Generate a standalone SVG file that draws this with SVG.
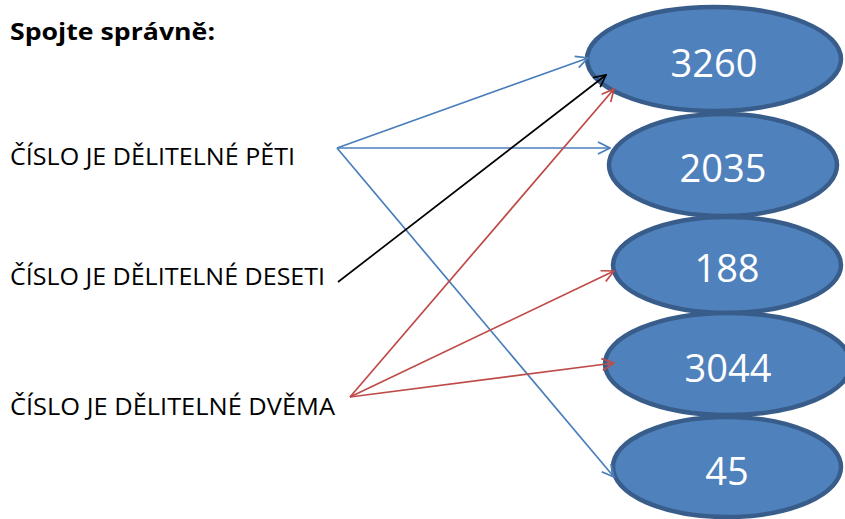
<svg xmlns="http://www.w3.org/2000/svg" width="845" height="519" viewBox="0 0 845 519">
<style>
.node ellipse{fill:#4f81bd;stroke:#385d8a;stroke-width:4.5}
.node text{fill:#fff;font-family:"Open Sans","Liberation Sans",sans-serif;font-size:38px;text-anchor:middle}
.lbl{fill:#000;font-family:"Open Sans","Liberation Sans",sans-serif;font-size:23px}
.title{fill:#000;font-family:"Open Sans","Liberation Sans",sans-serif;font-size:24px;font-weight:bold}
.b{stroke:#4a7ebb;stroke-width:1.7;fill:none;marker-end:url(#ab)}
.r{stroke:#be4b48;stroke-width:1.7;fill:none;marker-end:url(#ar)}
.k{stroke:#000;stroke-width:1.7;fill:none;marker-end:url(#ak)}
</style>
<defs>
<marker id="ab" viewBox="0 0 14 14" refX="13" refY="7" markerWidth="14" markerHeight="14" markerUnits="userSpaceOnUse" orient="auto"><path d="M1,1 L13,7 L1,13" fill="none" stroke="#4a7ebb" stroke-width="1.7"/></marker>
<marker id="ar" viewBox="0 0 14 14" refX="13" refY="7" markerWidth="14" markerHeight="14" markerUnits="userSpaceOnUse" orient="auto"><path d="M1,1 L13,7 L1,13" fill="none" stroke="#be4b48" stroke-width="1.7"/></marker>
<marker id="ak" viewBox="0 0 14 14" refX="13" refY="7" markerWidth="14" markerHeight="14" markerUnits="userSpaceOnUse" orient="auto"><path d="M1,1 L13,7 L1,13" fill="none" stroke="#000" stroke-width="1.7"/></marker>
</defs>
<rect width="845" height="519" fill="#fff"/>
<text class="title" x="10" y="40" textLength="205" lengthAdjust="spacingAndGlyphs">Spojte správně:</text>
<text class="lbl" x="10" y="165" textLength="285" lengthAdjust="spacingAndGlyphs">ČÍSLO JE DĚLITELNÉ PĚTI</text>
<text class="lbl" x="10" y="285" textLength="315" lengthAdjust="spacingAndGlyphs">ČÍSLO JE DĚLITELNÉ DESETI</text>
<text class="lbl" x="10" y="415" textLength="325" lengthAdjust="spacingAndGlyphs">ČÍSLO JE DĚLITELNÉ DVĚMA</text>
<g id="n3260" class="node"><ellipse cx="714" cy="59" rx="127" ry="52"/><text x="714" y="77">3260</text></g>
<g id="n2035" class="node"><ellipse cx="723" cy="165" rx="114" ry="51"/><text x="723" y="182">2035</text></g>
<g id="n188" class="node"><ellipse cx="727" cy="265" rx="114" ry="48"/><text x="727" y="282">188</text></g>
<g id="n3044" class="node"><ellipse cx="728" cy="364" rx="123" ry="51"/><text x="728" y="382">3044</text></g>
<g id="n45" class="node"><ellipse cx="727" cy="467" rx="114" ry="50"/><text x="727" y="485">45</text></g>
<g id="connectors">
<line class="b" x1="337" y1="148" x2="588" y2="58"/>
<line class="b" x1="337" y1="148" x2="610" y2="148"/>
<line class="b" x1="337" y1="148" x2="614" y2="477"/>
<line class="k" x1="338" y1="282" x2="606" y2="75"/>
<line class="r" x1="350" y1="397" x2="614" y2="89"/>
<line class="r" x1="350" y1="397" x2="614" y2="271"/>
<line class="r" x1="350" y1="397" x2="614" y2="363"/>
</g>
</svg>
